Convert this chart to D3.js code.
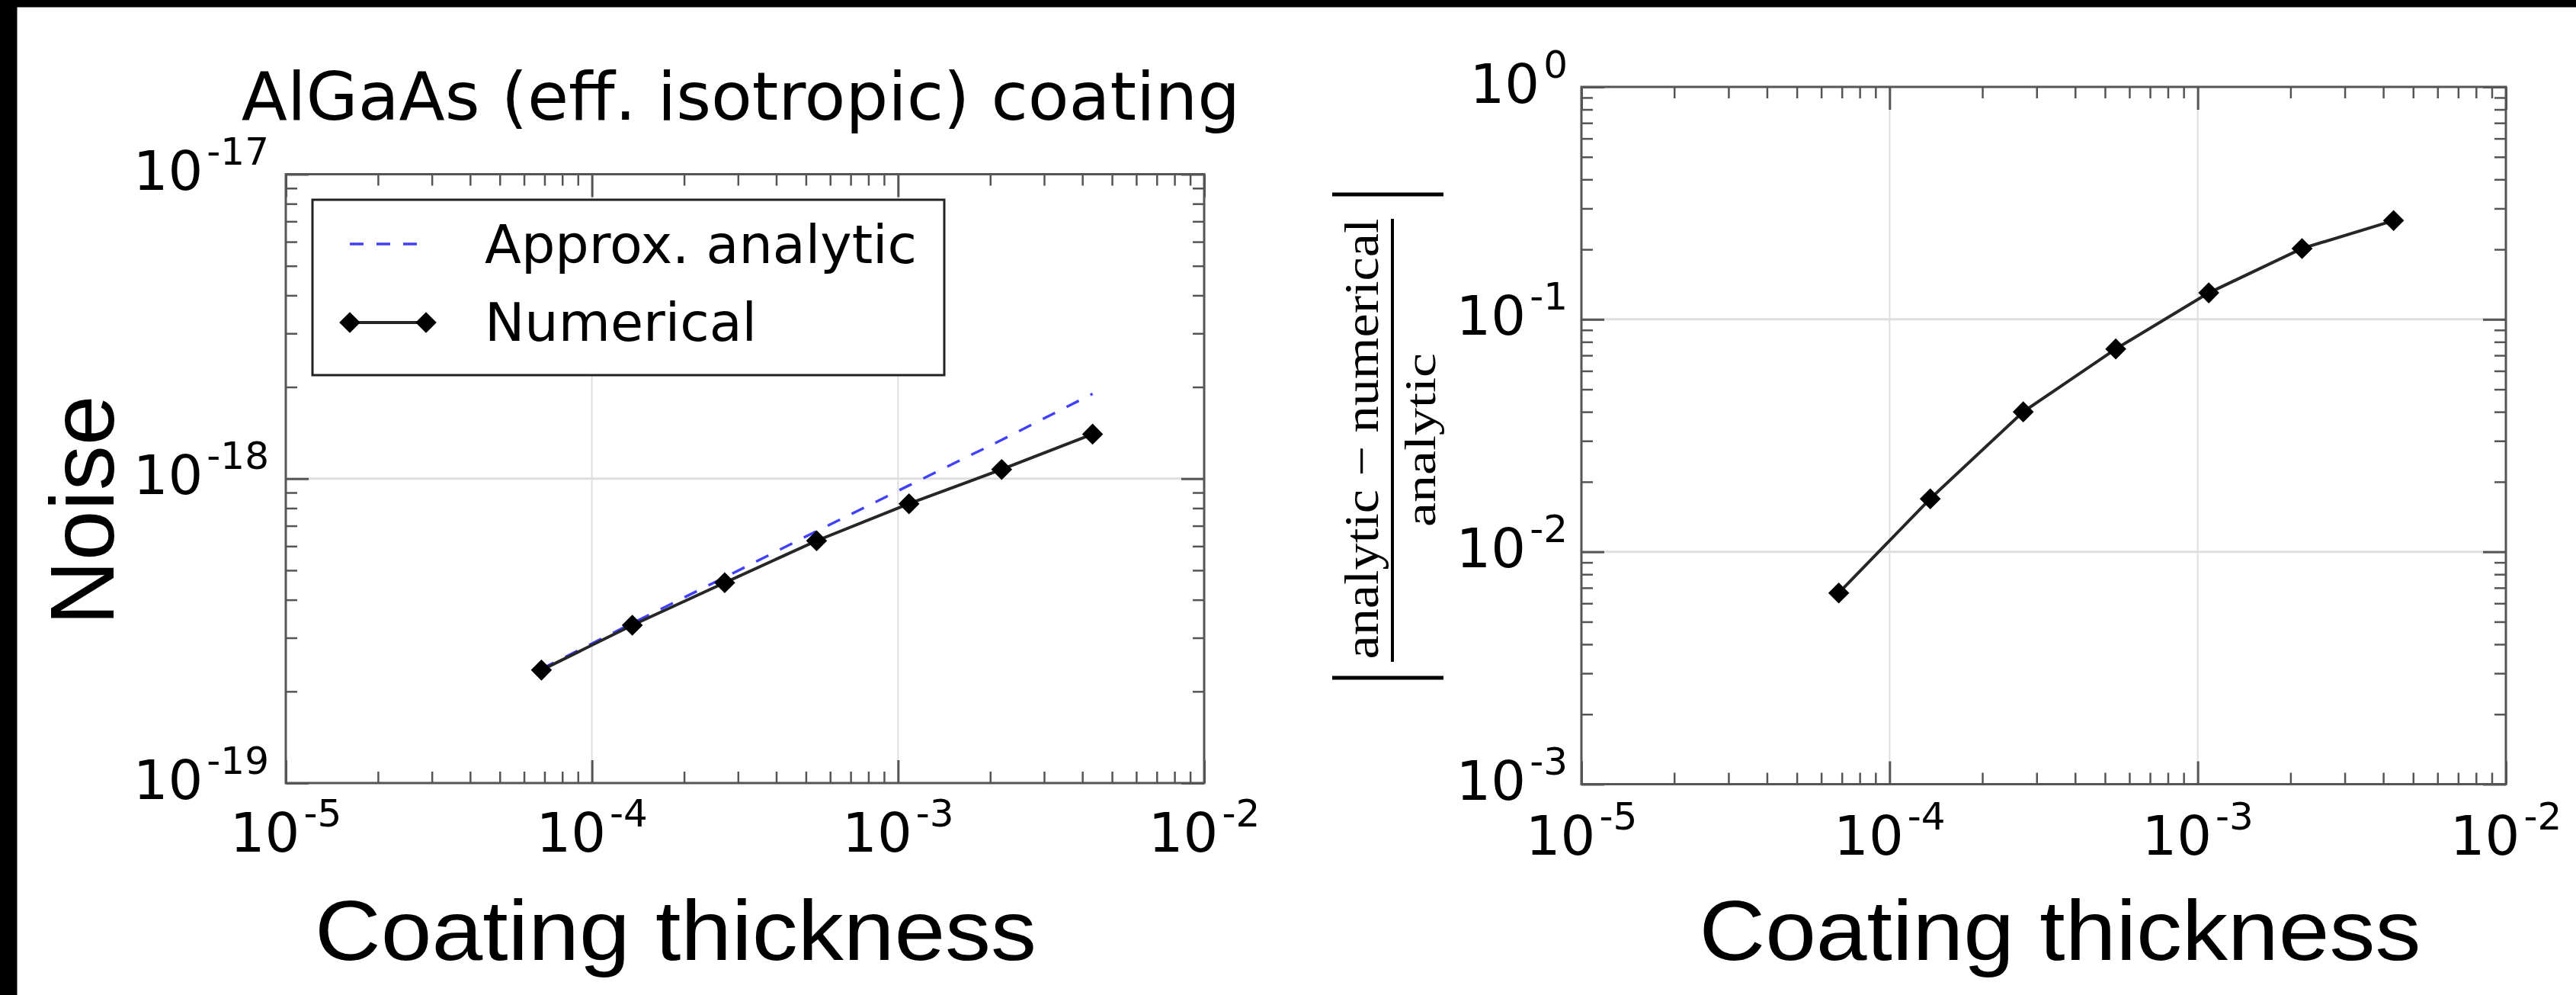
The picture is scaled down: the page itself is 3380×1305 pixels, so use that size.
<!DOCTYPE html>
<html><head><meta charset="utf-8">
<script src="https://cdn.jsdelivr.net/npm/d3@7"></script>
<style>body{margin:0;background:#fff;} svg{display:block}</style>
</head><body>
<svg id="chart" width="3380" height="1305"></svg>
<script>
// ---- data ----
const thickness = [6.84e-5, 1.355e-4, 2.715e-4, 5.42e-4, 1.086e-3, 2.18e-3, 4.32e-3];
const noiseNumerical = [2.35e-19, 3.30e-19, 4.55e-19, 6.25e-19, 8.27e-19, 1.072e-18, 1.40e-18];
const noiseAnalytic = [2.37e-19, 3.35e-19, 4.74e-19, 6.72e-19, 9.5e-19, 1.34e-18, 1.9e-18];
const relDiff = [6.65e-3, 1.69e-2, 4.0e-2, 7.46e-2, 0.130, 0.2017, 0.266];
const xTickExps = [-5, -4, -3, -2];
const yTickExpsLeft = [-19, -18, -17];
const yTickExpsRight = [-3, -2, -1, 0];
const legendLabels = ["Approx. analytic", "Numerical"];
const titleText = "AlGaAs (eff. isotropic) coating";

const svg = d3.select("#chart");
svg.append("rect").attr("width", 3380).attr("height", 1305).attr("fill", "#fff");

const SPINE = "#555";
const GRID = "#dedede";
const TICKFONT = "DejaVu Sans";
const BLUE = "#4040ff";
const LINEC = "#262626";
const MARK = 380;

function isMajor(v) { const l = Math.log10(v); return Math.abs(l - Math.round(l)) < 1e-6; }

function panel(cfg) {
  const x = d3.scaleLog().domain([1e-5, 1e-2]).range([cfg.x0, cfg.x1]);
  const y = d3.scaleLog().domain([Math.pow(10, cfg.yExps[0]), Math.pow(10, cfg.yExps[cfg.yExps.length - 1])]).range([cfg.y1, cfg.y0]);
  const g = svg.append("g");
  const majX = xTickExps.map(e => Math.pow(10, e));
  const majY = cfg.yExps.map(e => Math.pow(10, e));
  const minX = x.ticks().filter(v => !isMajor(v));
  const minY = y.ticks().filter(v => !isMajor(v));

  // grid
  g.append("g").selectAll("line").data(majX.slice(1, -1)).join("line")
    .attr("x1", d => x(d)).attr("x2", d => x(d)).attr("y1", cfg.y0).attr("y2", cfg.y1)
    .attr("stroke", GRID).attr("stroke-width", 2);
  g.append("g").selectAll("line").data(majY.slice(1, -1)).join("line")
    .attr("x1", cfg.x0).attr("x2", cfg.x1).attr("y1", d => y(d)).attr("y2", d => y(d))
    .attr("stroke", GRID).attr("stroke-width", 3);

  // ticks (inward, all four sides)
  function styleAxis(sel, w) {
    sel.select(".domain").remove();
    sel.selectAll("line").attr("stroke", SPINE).attr("stroke-width", w);
    sel.selectAll("text").remove();
  }
  const defs = [
    [d3.axisBottom, x, `translate(0,${cfg.y1})`],
    [d3.axisTop, x, `translate(0,${cfg.y0})`],
    [d3.axisLeft, y, `translate(${cfg.x0},0)`],
    [d3.axisRight, y, `translate(${cfg.x1},0)`]
  ];
  defs.forEach(([fn, sc, tr]) => {
    const maj = sc === x ? majX : majY;
    const mn = sc === x ? minX : minY;
    g.append("g").attr("transform", tr).call(fn(sc).tickValues(mn).tickSize(-15).tickFormat("")).call(s => styleAxis(s, 2.5));
    g.append("g").attr("transform", tr).call(fn(sc).tickValues(maj).tickSize(-30).tickFormat("")).call(s => styleAxis(s, 3));
  });

  // frame
  g.append("rect").attr("x", cfg.x0).attr("y", cfg.y0).attr("width", cfg.x1 - cfg.x0).attr("height", cfg.y1 - cfg.y0)
    .attr("fill", "none").attr("stroke", SPINE).attr("stroke-width", 3);

  // x tick labels
  xTickExps.forEach(e => {
    const t = g.append("text").attr("x", x(Math.pow(10, e))).attr("y", cfg.y1 + cfg.xLabDy)
      .attr("text-anchor", "middle").attr("font-family", TICKFONT).attr("font-size", 72).attr("fill", "#000");
    t.append("tspan").text("10");
    t.append("tspan").attr("dx", 5).attr("dy", -33).attr("font-size", 50).text(String(e));
  });
  // y tick labels
  cfg.yExps.forEach(e => {
    const t = g.append("text").attr("x", cfg.yLabX).attr("y", y(Math.pow(10, e)) + 20.5)
      .attr("text-anchor", "end").attr("font-family", TICKFONT).attr("font-size", 72).attr("fill", "#000");
    t.append("tspan").text("10");
    t.append("tspan").attr("dx", 5).attr("dy", -33).attr("font-size", 50).text(String(e));
  });
  return { x, y, g };
}

function diamonds(g, pts, x, y) {
  g.append("g").selectAll("path").data(pts).join("path")
    .attr("d", d3.symbol(d3.symbolSquare, MARK))
    .attr("transform", d => `translate(${x(d[0])},${y(d[1])}) rotate(45)`)
    .attr("fill", "#000");
}

// ---- left panel ----
const L = panel({ x0: 375, x1: 1580, y0: 228.5, y1: 1027, yExps: yTickExpsLeft, xLabDy: 90, yLabX: 353 });
const lineGen = (sx, sy) => d3.line().x(d => sx(d[0])).y(d => sy(d[1]));
L.g.append("path").datum(d3.zip(thickness, noiseAnalytic)).attr("d", lineGen(L.x, L.y))
  .attr("fill", "none").attr("stroke", BLUE).attr("stroke-width", 3.4).attr("stroke-dasharray", "18,17");
L.g.append("path").datum(d3.zip(thickness, noiseNumerical)).attr("d", lineGen(L.x, L.y))
  .attr("fill", "none").attr("stroke", LINEC).attr("stroke-width", 4);
diamonds(L.g, d3.zip(thickness, noiseNumerical), L.x, L.y);

// legend
const lg = svg.append("g");
lg.append("rect").attr("x", 410).attr("y", 262).attr("width", 829).attr("height", 230)
  .attr("fill", "#fff").attr("stroke", "#222").attr("stroke-width", 3);
lg.append("line").attr("x1", 459).attr("x2", 559).attr("y1", 320).attr("y2", 320)
  .attr("stroke", BLUE).attr("stroke-width", 3.4).attr("stroke-dasharray", "18,17");
lg.append("line").attr("x1", 459).attr("x2", 559).attr("y1", 423).attr("y2", 423)
  .attr("stroke", LINEC).attr("stroke-width", 4);
[459, 559].forEach(cx => lg.append("path").attr("d", d3.symbol(d3.symbolSquare, MARK))
  .attr("transform", `translate(${cx},423) rotate(45)`).attr("fill", "#000"));
legendLabels.forEach((s, i) => lg.append("text").attr("x", 636).attr("y", 345 + i * 102)
  .attr("font-family", TICKFONT).attr("font-size", 70).attr("fill", "#000").text(s));

// title
svg.append("text").attr("x", 972).attr("y", 157).attr("text-anchor", "middle")
  .attr("font-family", TICKFONT).attr("font-size", 88).attr("fill", "#000").text(titleText);

// ---- right panel ----
const R = panel({ x0: 2075, x1: 3288, y0: 114, y1: 1028.5, yExps: yTickExpsRight, xLabDy: 92, yLabX: 2057 });
R.g.append("path").datum(d3.zip(thickness, relDiff)).attr("d", lineGen(R.x, R.y))
  .attr("fill", "none").attr("stroke", LINEC).attr("stroke-width", 4);
diamonds(R.g, d3.zip(thickness, relDiff), R.x, R.y);

// axis labels
const SANS = "Liberation Sans, Arial, Helvetica, sans-serif";
svg.append("text").attr("transform", "translate(149,669.5) rotate(-90)").attr("text-anchor", "middle")
  .attr("font-family", SANS).attr("font-size", 118).attr("fill", "#000").text("Noise");
[886.6, 2703].forEach(cx => svg.append("text").attr("x", cx).attr("y", 1258.7).attr("text-anchor", "middle")
  .attr("font-family", SANS).attr("font-size", 112).attr("textLength", 947).attr("lengthAdjust", "spacingAndGlyphs")
  .attr("fill", "#000").text("Coating thickness"));

// right y label: |(analytic - numerical) / analytic|
const yl = svg.append("g").attr("transform", "translate(1827,577) rotate(-90)");
const SERIF = "Liberation Serif, DejaVu Serif, serif";
yl.append("line").attr("x1", -291).attr("x2", 290).attr("y1", 0).attr("y2", 0).attr("stroke", "#000").attr("stroke-width", 4);
yl.append("text").attr("x", 1.5).attr("y", -19).attr("text-anchor", "middle").attr("font-family", SERIF)
  .attr("font-size", 64).attr("textLength", 578).attr("lengthAdjust", "spacingAndGlyphs").text("analytic \u2212 numerical");
yl.append("text").attr("x", 0).attr("y", 56).attr("text-anchor", "middle").attr("font-family", SERIF)
  .attr("font-size", 58).attr("textLength", 228).attr("lengthAdjust", "spacingAndGlyphs").text("analytic");
[322, -312].forEach(lx => yl.append("rect").attr("x", lx - 2.5).attr("y", -79).attr("width", 5).attr("height", 146).attr("fill", "#000"));

// black frame remnants
svg.append("rect").attr("x", 0).attr("y", 0).attr("width", 3380).attr("height", 9.5).attr("fill", "#000");
svg.append("rect").attr("x", 0).attr("y", 0).attr("width", 22.5).attr("height", 1305).attr("fill", "#000");
</script>
</body></html>
